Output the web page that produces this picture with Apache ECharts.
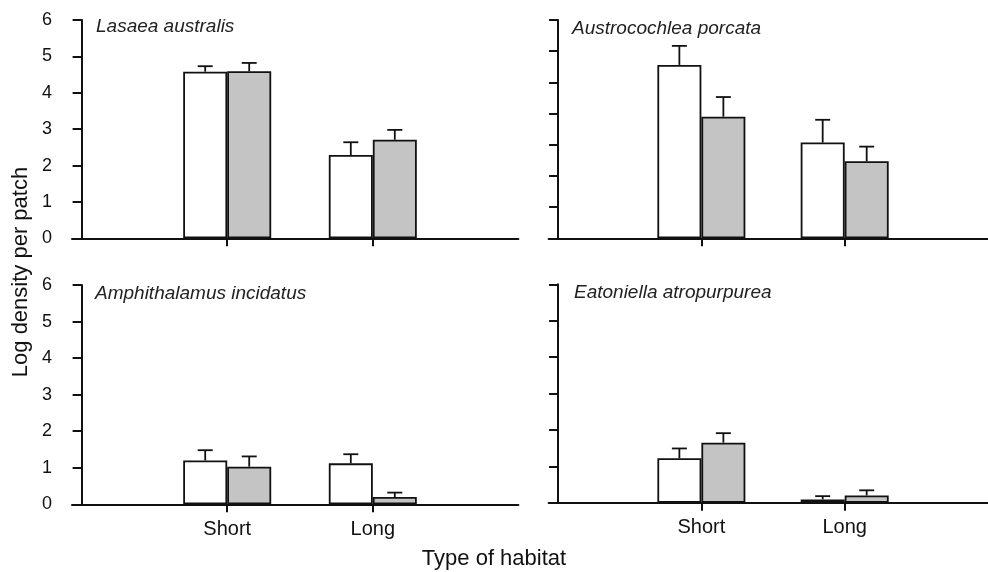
<!DOCTYPE html>
<html>
<head>
<meta charset="utf-8">
<script src="https://cdn.jsdelivr.net/npm/echarts@6/dist/echarts.min.js"></script>
<style>
  html, body { margin: 0; padding: 0; background: #ffffff; }
  #chart { width: 988px; height: 572px; }
</style>
</head>
<body>
<div id="chart"></div>
<script>
// ---- Data ----
const habitats = ['Short', 'Long'];
const speciesNames = ['Lasaea australis', 'Austrocochlea porcata', 'Amphithalamus incidatus', 'Eatoniella atropurpurea'];

const lasaeaWhite = [4.58, 2.29];
const lasaeaWhiteSE = [0.15, 0.35];
const lasaeaGrey = [4.59, 2.71];
const lasaeaGreySE = [0.23, 0.27];

const austroWhite = [5.56, 3.07];
const austroWhiteSE = [0.61, 0.73];
const austroGrey = [3.90, 2.47];
const austroGreySE = [0.63, 0.47];

const amphiWhite = [1.20, 1.12];
const amphiWhiteSE = [0.28, 0.25];
const amphiGrey = [1.03, 0.20];
const amphiGreySE = [0.28, 0.12];

const eatoWhite = [1.22, 0.09];
const eatoWhiteSE = [0.27, 0.09];
const eatoGrey = [1.65, 0.20];
const eatoGreySE = [0.26, 0.14];

const panels = [
  { white: lasaeaWhite, whiteSE: lasaeaWhiteSE, grey: lasaeaGrey, greySE: lasaeaGreySE, yMax: 6 },
  { white: austroWhite, whiteSE: austroWhiteSE, grey: austroGrey, greySE: austroGreySE, yMax: 7 },
  { white: amphiWhite, whiteSE: amphiWhiteSE, grey: amphiGrey, greySE: amphiGreySE, yMax: 6 },
  { white: eatoWhite, whiteSE: eatoWhiteSE, grey: eatoGrey, greySE: eatoGreySE, yMax: 6 }
];

// ---- Layout / style ----
const FONT = 'Liberation Sans, Arial, sans-serif';
const INK = '#111111';
const BAR_W = 44;
const CAP_W = 15;
const grids = [
  { left: 72, top: 20, width: 446.4, height: 218.3 },
  { left: 548.6, top: 20, width: 448.9, height: 218.3 },
  { left: 72, top: 285, width: 446.4, height: 219.3 },
  { left: 548.6, top: 284.3, width: 448.9, height: 218.4 }
];
const titlePos = [
  { left: 96, top: 17 },
  { left: 572, top: 19 },
  { left: 95, top: 284 },
  { left: 574, top: 283 }
];

const xAxes = [], yAxes = [], series = [], titles = [];
panels.forEach((p, i) => {
  const showXLabels = i >= 2;
  const showYLabels = i % 2 === 0;
  xAxes.push({
    type: 'value', gridIndex: i, min: -0.066, max: 3,
    axisLine: { show: true, onZero: true, lineStyle: { color: INK, width: 2 } },
    axisTick: { show: true, customValues: [1, 2], length: 8, lineStyle: { color: INK, width: 2 } },
    axisLabel: {
      show: showXLabels, customValues: [1, 2], margin: 15,
      formatter: v => habitats[Math.round(v) - 1] || '',
      color: INK, fontSize: 20, fontFamily: FONT
    },
    splitLine: { show: false }
  });
  yAxes.push({
    type: 'value', gridIndex: i, min: 0, max: p.yMax, interval: 1,
    axisLine: { show: true, onZero: true, lineStyle: { color: INK, width: 2 } },
    axisTick: { show: true, length: 9, lineStyle: { color: INK, width: 2 } },
    axisLabel: { show: showYLabels, margin: 20, color: INK, fontSize: 18, fontFamily: FONT },
    splitLine: { show: false }
  });
  series.push({
    type: 'bar', xAxisIndex: i, yAxisIndex: i, barWidth: BAR_W, barGap: '0%',
    data: habitats.map((h, j) => [j + 1, p.white[j]]),
    itemStyle: { color: '#ffffff', borderColor: INK, borderWidth: 1.8 },
    z: 2
  });
  series.push({
    type: 'bar', xAxisIndex: i, yAxisIndex: i, barWidth: BAR_W, barGap: '0%',
    data: habitats.map((h, j) => [j + 1, p.grey[j]]),
    itemStyle: { color: '#c4c4c4', borderColor: INK, borderWidth: 1.8 },
    z: 2
  });
  const errData = [];
  habitats.forEach((h, j) => {
    errData.push([j + 1, p.white[j], p.whiteSE[j], -1]);
    errData.push([j + 1, p.grey[j], p.greySE[j], 1]);
  });
  series.push({
    type: 'custom', xAxisIndex: i, yAxisIndex: i, z: 3,
    data: errData,
    renderItem: function (params, api) {
      const x = api.value(0), m = api.value(1), se = api.value(2), side = api.value(3);
      const base = api.coord([x, m]);
      const top = api.coord([x, m + se]);
      const cx = base[0] + side * BAR_W / 2;
      return {
        type: 'group',
        children: [
          { type: 'line', shape: { x1: cx, y1: base[1], x2: cx, y2: top[1] }, style: { stroke: INK, lineWidth: 1.8 } },
          { type: 'line', shape: { x1: cx - CAP_W / 2, y1: top[1], x2: cx + CAP_W / 2, y2: top[1] }, style: { stroke: INK, lineWidth: 1.8 } }
        ]
      };
    }
  });
  titles.push({
    text: speciesNames[i], left: titlePos[i].left, top: titlePos[i].top, padding: 0,
    textStyle: { fontFamily: FONT, fontStyle: 'italic', fontWeight: 'normal', fontSize: 19, color: '#222222' }
  });
});

titles.push({
  text: 'Type of habitat', left: 'center', top: 548, padding: 0,
  textStyle: { fontFamily: FONT, fontWeight: 'normal', fontSize: 22, color: INK }
});

const chart = echarts.init(document.getElementById('chart'), null, { renderer: 'canvas' });
chart.setOption({
  backgroundColor: '#ffffff',
  animation: false,
  title: titles,
  grid: grids,
  xAxis: xAxes,
  yAxis: yAxes,
  series: series,
  graphic: [{
    type: 'text', x: 21, y: 272, rotation: Math.PI / 2,
    style: { text: 'Log density per patch', fontFamily: FONT, fontSize: 22, fill: INK, textAlign: 'center', textVerticalAlign: 'middle' }
  }]
});
</script>
</body>
</html>
